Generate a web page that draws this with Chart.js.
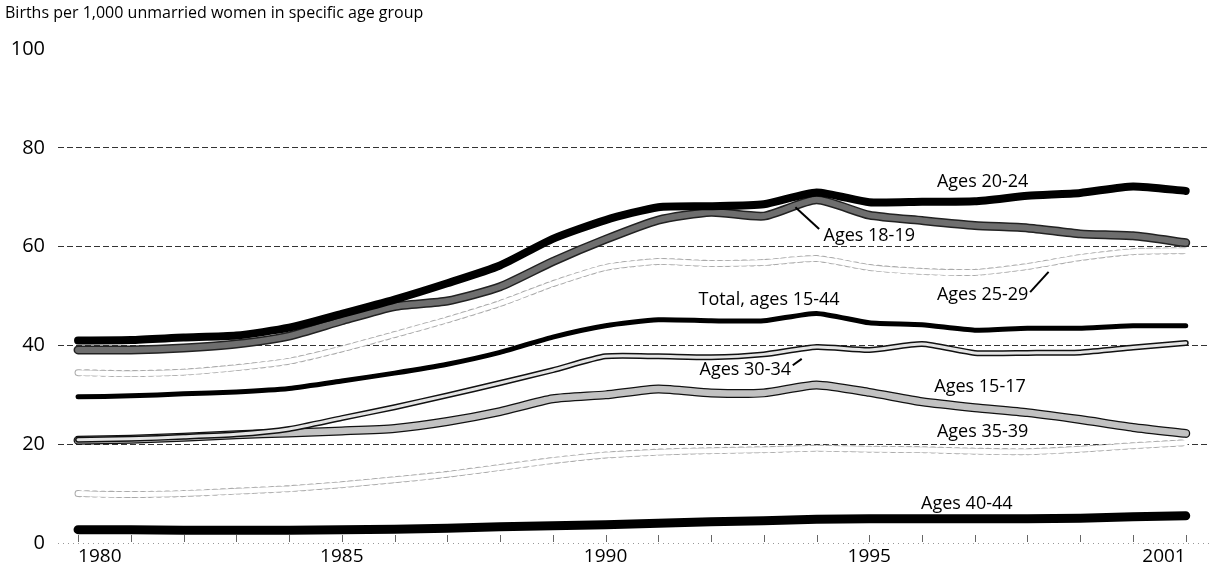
<!DOCTYPE html>
<html>
<head>
<meta charset="utf-8" />
<title>Births to unmarried women by age</title>
<script src="https://cdn.jsdelivr.net/npm/chart.js@4.4.1/dist/chart.umd.min.js"></script>
<style>
  html, body { margin: 0; padding: 0; background: #fff; }
  #wrap { width: 1210px; height: 578px; }
</style>
</head>
<body>
<div id="wrap"><canvas id="births" width="1210" height="578"></canvas></div>

<script>
// values (births per 1,000 unmarried women)
const years = [1980, 1981, 1982, 1983, 1984, 1985, 1986, 1987, 1988, 1989, 1990,
               1991, 1992, 1993, 1994, 1995, 1996, 1997, 1998, 1999, 2000, 2001];
const tickYears = [1980, 1985, 1990, 1995, 2001];
const yTicks = [0, 20, 40, 60, 80, 100];

const ages2024  = [41.0, 41.1, 41.6, 42.0, 43.6, 46.4, 49.3, 52.6, 56.2, 61.6, 65.4, 68.0, 68.2, 68.6, 71.0, 69.0, 69.1, 69.2, 70.3, 70.9, 72.2, 71.3];
const ages1819  = [39.1, 39.1, 39.5, 40.3, 41.9, 45.0, 47.9, 49.0, 51.9, 57.0, 61.5, 65.4, 67.0, 66.2, 69.5, 66.4, 65.3, 64.3, 63.8, 62.6, 62.2, 60.8];
const ages2529  = [34.5, 34.3, 34.6, 35.5, 36.8, 39.3, 42.2, 45.2, 48.5, 52.5, 55.8, 57.0, 56.6, 56.8, 57.6, 55.8, 55.0, 54.8, 56.0, 57.8, 59.0, 59.2];
const total1544 = [29.6, 29.8, 30.2, 30.6, 31.3, 32.8, 34.4, 36.2, 38.6, 41.7, 44.0, 45.2, 45.0, 45.0, 46.5, 44.6, 44.2, 43.1, 43.5, 43.5, 44.0, 44.0];
const ages3034  = [20.9, 21.1, 21.5, 22.0, 23.1, 25.3, 27.5, 29.9, 32.4, 35.0, 37.8, 37.8, 37.6, 38.2, 39.7, 39.1, 40.3, 38.5, 38.5, 38.6, 39.6, 40.5];
const ages1517  = [20.8, 21.0, 21.4, 21.9, 22.3, 22.7, 23.2, 24.6, 26.6, 29.2, 30.0, 31.2, 30.4, 30.4, 32.0, 30.5, 28.6, 27.4, 26.4, 25.0, 23.4, 22.2];
const ages3539  = [10.0, 9.8, 10.0, 10.5, 11.0, 11.8, 12.8, 13.9, 15.3, 16.7, 17.8, 18.4, 18.7, 18.9, 19.2, 19.0, 18.9, 18.6, 18.5, 19.0, 19.7, 20.3];
const ages4044  = [2.7, 2.7, 2.6, 2.6, 2.6, 2.7, 2.8, 3.0, 3.3, 3.5, 3.7, 4.0, 4.3, 4.5, 4.8, 4.9, 4.9, 4.9, 4.9, 5.0, 5.3, 5.5];

Chart.defaults.font.family = '"Open Sans", "DejaVu Sans", sans-serif';
Chart.defaults.color = '#111';

function pts(vals) {
  return years.map((yr, i) => ({ x: yr, y: vals[i] }));
}

function line(vals, color, width, order, dash) {
  return {
    data: pts(vals),
    borderColor: color,
    borderWidth: width,
    borderDash: dash || [],
    order: order,
    pointRadius: 0,
    tension: 0.2,
    borderCapStyle: 'round',
    borderJoinStyle: 'round',
    fill: false
  };
}

// short tick marks for every year along the zero line
const yearTicks = {
  id: 'yearTicks',
  beforeDatasetsDraw(chart) {
    const { ctx, scales: { x, y } } = chart;
    const y0 = y.getPixelForValue(0);
    ctx.save();
    ctx.strokeStyle = '#666';
    ctx.lineWidth = 1;
    years.forEach(yr => {
      const px = Math.round(x.getPixelForValue(yr)) + 0.5;
      ctx.beginPath();
      ctx.moveTo(px, y0 - 1);
      ctx.lineTo(px, y0 - 8);
      ctx.stroke();
    });
    ctx.restore();
  }
};

// series names written next to the lines
const seriesLabels = {
  id: 'seriesLabels',
  afterDatasetsDraw(chart, args, opts) {
    const { ctx, scales: { x, y } } = chart;
    ctx.save();
    ctx.font = '18px "Open Sans", sans-serif';
    ctx.fillStyle = '#000';
    ctx.textAlign = 'center';
    ctx.textBaseline = 'middle';
    opts.items.forEach(it => {
      ctx.fillText(it.text, x.getPixelForValue(it.x), y.getPixelForValue(it.y));
      if (it.lead) {
        ctx.strokeStyle = '#000';
        ctx.lineWidth = 2;
        ctx.beginPath();
        ctx.moveTo(x.getPixelForValue(it.lead[0]), y.getPixelForValue(it.lead[1]));
        ctx.lineTo(x.getPixelForValue(it.lead[2]), y.getPixelForValue(it.lead[3]));
        ctx.stroke();
      }
    });
    ctx.restore();
  }
};

const ctx = document.getElementById('births');
const chart = new Chart(ctx, {
  type: 'line',
  data: {
    datasets: [
      line(ages4044, '#000', 9, 1),
      line(total1544, '#000', 5, 2),
      line(ages2024, '#000', 8, 3),
      line(ages1819, '#6e6e6e', 6, 4),
      line(ages1819, '#222', 9, 5),
      line(ages3034, '#e4e4e4', 3, 6),
      line(ages3034, '#111', 6, 7),
      line(ages1517, '#c2c2c2', 6.5, 8),
      line(ages1517, '#111', 9, 9),
      line(ages2529, '#fff', 5, 10),
      line(ages2529, '#aaa', 7, 11, [2, 6]),
      line(ages3539, '#fff', 5, 12),
      line(ages3539, '#aaa', 7, 13, [2, 6])
    ]
  },
  options: {
    responsive: false,
    animation: false,
    layout: { padding: { left: 5 } },
    plugins: {
      legend: { display: false },
      tooltip: { enabled: false },
      title: {
        display: true,
        text: 'Births per 1,000 unmarried women in specific age group',
        align: 'start',
        font: { size: 16, weight: 'normal' },
        color: '#000',
        padding: { top: 4, bottom: 26 }
      },
      seriesLabels: {
        items: [
          { text: 'Ages 20-24', x: 1997.15, y: 73.2 },
          { text: 'Ages 18-19', x: 1995.0, y: 62.1, lead: [1993.6, 68.0, 1994.05, 63.6] },
          { text: 'Ages 25-29', x: 1997.15, y: 50.3, lead: [1998.05, 50.8, 1998.4, 54.9] },
          { text: 'Total, ages 15-44', x: 1993.1, y: 49.3 },
          { text: 'Ages 30-34', x: 1992.65, y: 35.0, lead: [1993.55, 36.0, 1993.72, 37.3] },
          { text: 'Ages 15-17', x: 1997.1, y: 31.6 },
          { text: 'Ages 35-39', x: 1997.15, y: 22.6 },
          { text: 'Ages 40-44', x: 1996.85, y: 8.0 }
        ]
      }
    },
    scales: {
      x: {
        type: 'linear',
        min: 1979.62,
        max: 2001.46,
        afterBuildTicks: s => { s.ticks = tickYears.map(v => ({ value: v })); },
        afterFit: s => { s.height = 35; },
        grid: { display: false, drawTicks: false, tickLength: 0 },
        border: { display: false },
        ticks: {
          autoSkip: false,
          maxRotation: 0,
          align: 'inner',
          padding: 2,
          font: { size: 19 },
          color: '#000',
          callback: v => String(v)
        }
      },
      y: {
        min: 0,
        max: 100,
        afterBuildTicks: s => { s.ticks = yTicks.map(v => ({ value: v })); },
        afterFit: s => { s.width = 53; },
        grid: {
          drawTicks: false,
          lineWidth: 1,
          color: c => c.tick.value === 100 ? 'rgba(0,0,0,0)' : (c.tick.value === 0 ? '#999' : '#333')
        },
        border: {
          display: false,
          dash: c => c.tick.value === 0 ? [1, 4] : [6, 3]
        },
        ticks: {
          padding: 13,
          font: { size: 20 },
          color: '#000',
          callback: v => String(v)
        }
      }
    }
  },
  plugins: [yearTicks, seriesLabels]
});
</script>
</body>
</html>
